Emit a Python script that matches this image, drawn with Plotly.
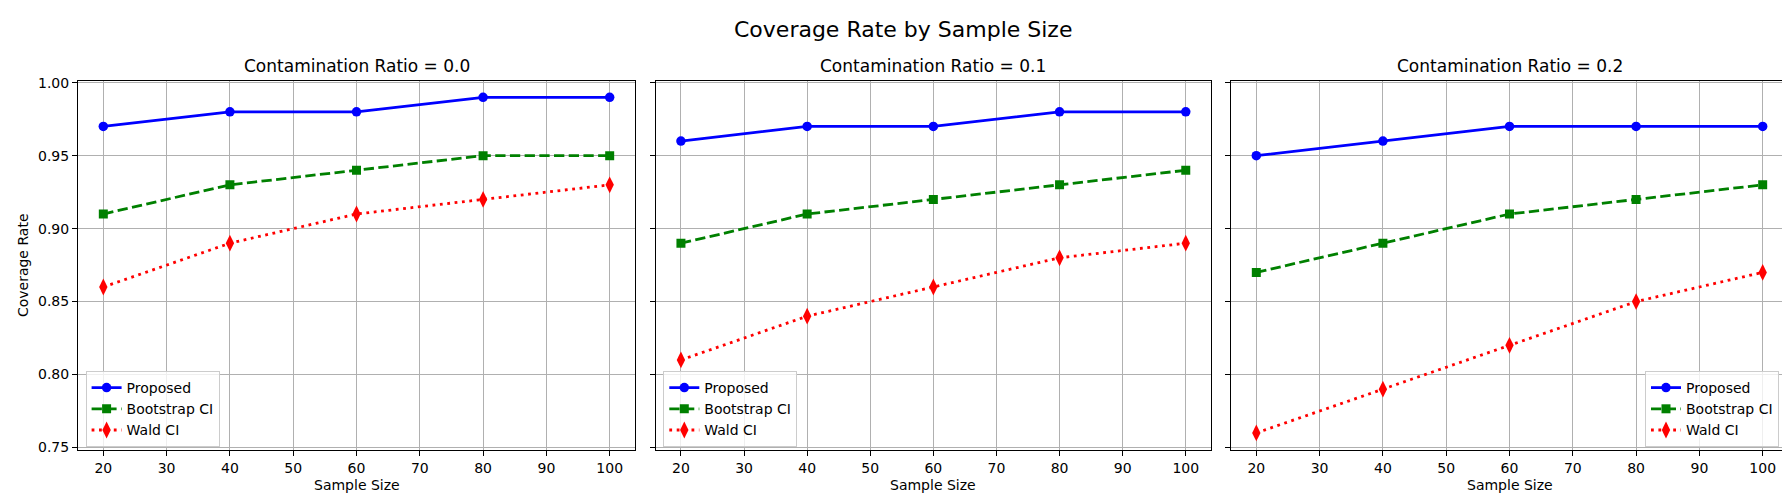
import plotly.graph_objects as go

sample_sizes = [20, 40, 60, 80, 100]
ratios = ["0.0", "0.1", "0.2"]
proposed = [
    [0.97, 0.98, 0.98, 0.99, 0.99],
    [0.96, 0.97, 0.97, 0.98, 0.98],
    [0.95, 0.96, 0.97, 0.97, 0.97],
]
bootstrap = [
    [0.91, 0.93, 0.94, 0.95, 0.95],
    [0.89, 0.91, 0.92, 0.93, 0.94],
    [0.87, 0.89, 0.91, 0.92, 0.93],
]
wald = [
    [0.86, 0.89, 0.91, 0.92, 0.93],
    [0.81, 0.84, 0.86, 0.88, 0.89],
    [0.76, 0.79, 0.82, 0.85, 0.87],
]
y_ticks = [0.75, 0.80, 0.85, 0.90, 0.95, 1.00]
x_ticks = [20, 30, 40, 50, 60, 70, 80, 90, 100]

W, H = 1790, 495
FONT = "DejaVu Sans"
panels_px = [(70, 627), (647.7, 1203), (1223, 1780)]
y_top, y_bot = 72.5, 441.7
ydom = [1 - y_bot / H, 1 - y_top / H]

fig = go.Figure()
legend_names = ["legend", "legend2", "legend3"]
series = [
    ("Proposed", proposed, "blue", "solid", "circle", 9.5),
    ("Bootstrap CI", bootstrap, "green", "10.3px,4.4px", "square", 9),
    ("Wald CI", wald, "red", "2.8px,4.6px", "diamond-tall", 12),
]
for i in range(3):
    xa = "x" if i == 0 else f"x{i+1}"
    ya = "y" if i == 0 else f"y{i+1}"
    for name, data, color, dash, sym, msize in series:
        fig.add_trace(go.Scatter(
            x=sample_sizes, y=data[i], mode="lines+markers", name=name,
            line=dict(color=color, width=2.8, dash=dash),
            marker=dict(color=color, symbol=sym, size=msize),
            xaxis=xa, yaxis=ya, legend=legend_names[i],
        ))

layout = dict(
    width=W, height=H, margin=dict(l=0, r=0, t=0, b=0),
    paper_bgcolor="white", plot_bgcolor="white",
    font=dict(family=FONT, size=14, color="black"),
)
axis_common = dict(
    showline=True, linecolor="black", linewidth=1, mirror=True,
    showgrid=True, gridcolor="#b0b0b0", gridwidth=1,
    ticks="outside", ticklen=5, tickcolor="black", tickwidth=1,
    zeroline=False, automargin=False,
    tickfont=dict(family=FONT, size=14, color="black"),
)
annotations = []
for i, (l, r) in enumerate(panels_px):
    suf = "" if i == 0 else str(i + 1)
    layout[f"xaxis{suf}"] = dict(
        axis_common, domain=[l / W, r / W], range=[16, 104],
        tickvals=x_ticks, anchor=f"y{suf}",
    )
    layout[f"yaxis{suf}"] = dict(
        axis_common, domain=ydom, range=[0.7485, 1.0015],
        tickvals=y_ticks, ticktext=[f"{v:.2f}" for v in y_ticks] if i == 0 else [""] * len(y_ticks),
        anchor=f"x{suf}",
    )
    annotations.append(dict(
        text=f"Contamination Ratio = {ratios[i]}", x=(l + r) / 2 / W, y=1 - 58 / H,
        xref="paper", yref="paper", showarrow=False, xanchor="center", yanchor="middle",
        font=dict(family=FONT, size=17, color="black"),
    ))
    annotations.append(dict(
        text="Sample Size", x=(l + r) / 2 / W, y=1 - 477 / H,
        xref="paper", yref="paper", showarrow=False, xanchor="center", yanchor="middle",
        font=dict(family=FONT, size=14, color="black"),
    ))
annotations.append(dict(
    text="Coverage Rate", x=15 / W, y=(ydom[0] + ydom[1]) / 2,
    xref="paper", yref="paper", showarrow=False, xanchor="center", yanchor="middle",
    textangle=-90, font=dict(family=FONT, size=14, color="black"),
))
annotations.append(dict(
    text="Coverage Rate by Sample Size", x=0.5, y=1 - 21 / H,
    xref="paper", yref="paper", showarrow=False, xanchor="center", yanchor="middle",
    font=dict(family=FONT, size=22, color="black"),
))
layout["annotations"] = annotations

leg_common = dict(
    bgcolor="rgba(255,255,255,0.8)", bordercolor="#cccccc", borderwidth=1,
    font=dict(family=FONT, size=14, color="black"), yanchor="bottom",
    xref="paper", yref="paper", itemwidth=30, tracegroupgap=0,
)
leg_y = 1 - 439 / H
layout["legend"] = dict(leg_common, x=77.6 / W, y=leg_y, xanchor="left")
layout["legend2"] = dict(leg_common, x=655.3 / W, y=leg_y, xanchor="left")
layout["legend3"] = dict(leg_common, x=1771 / W, y=leg_y, xanchor="right")

fig.update_layout(**layout)
fig.write_html("out.html")
